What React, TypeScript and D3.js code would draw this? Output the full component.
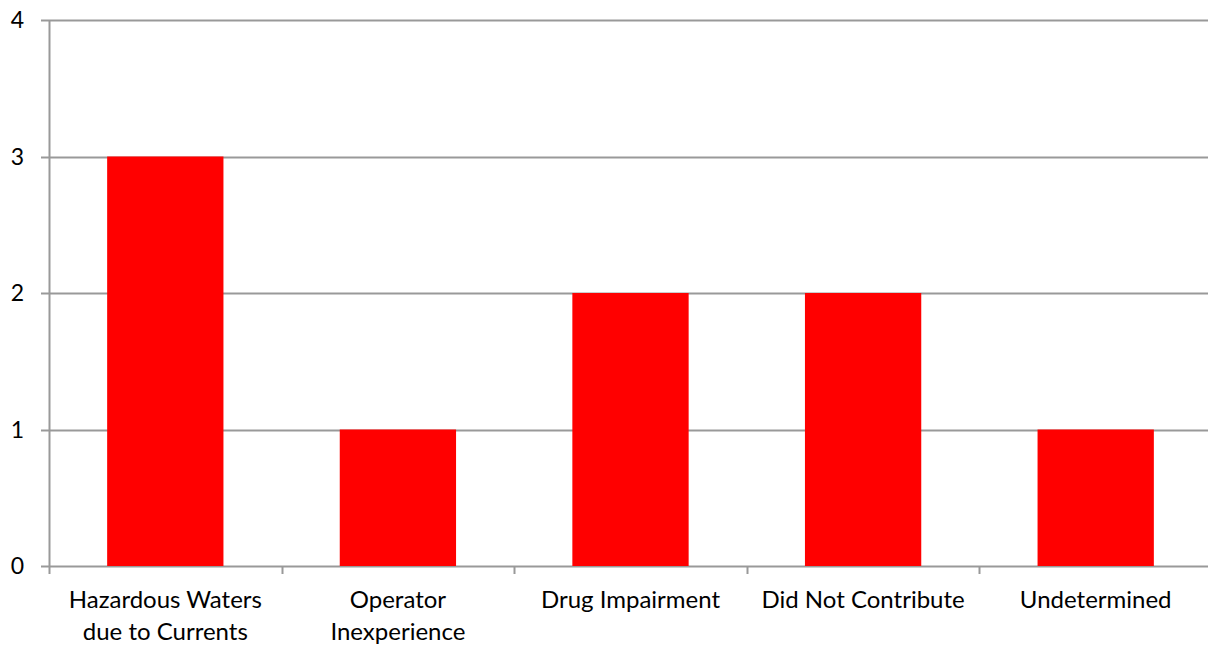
import { useRef, useEffect } from "react";
import * as d3 from "d3";

const categories: string[][] = [
  ["Hazardous Waters", "due to Currents"],
  ["Operator", "Inexperience"],
  ["Drug Impairment"],
  ["Did Not Contribute"],
  ["Undetermined"],
];
const values: number[] = [3, 1, 2, 2, 1];
const yTicks: number[] = [0, 1, 2, 3, 4];

const W = 1208;
const H = 648;
const margin = { top: 20, right: -4, bottom: 82, left: 49 };

const App = () => {
  const svgRef = useRef(null);

  useEffect(() => {
    if (!svgRef.current) return;
    const svg = d3.select(svgRef.current);
    svg.selectAll("*").remove();

    const keys = categories.map((c) => c.join(" "));
    const x = d3
      .scaleBand()
      .domain(keys)
      .range([margin.left, W - margin.right])
      .paddingInner(0.5)
      .paddingOuter(0.25);
    const y = d3
      .scaleLinear()
      .domain([0, 4])
      .range([H - margin.bottom, margin.top]);

    const font = "Lato, Carlito, sans-serif";
    const grid = "#999999";

    // gridlines
    svg
      .append("g")
      .selectAll("line")
      .data(yTicks)
      .join("line")
      .attr("x1", margin.left - 8)
      .attr("x2", W)
      .attr("y1", (d) => Math.round(y(d)) + 0.5)
      .attr("y2", (d) => Math.round(y(d)) + 0.5)
      .attr("stroke", grid)
      .attr("stroke-width", 2);

    // y labels
    svg
      .append("g")
      .attr("font-family", font)
      .attr("font-size", 23)
      .attr("fill", "#000")
      .attr("text-anchor", "end")
      .selectAll("text")
      .data(yTicks)
      .join("text")
      .attr("x", 24)
      .attr("y", (d) => y(d))
      .attr("dy", "0.36em")
      .text((d) => d);

    // bars
    svg
      .append("g")
      .selectAll("rect")
      .data(values)
      .join("rect")
      .attr("x", (_, i) => x(keys[i]) as number)
      .attr("width", x.bandwidth())
      .attr("y", (d) => y(d))
      .attr("height", (d) => y(0) - y(d))
      .attr("fill", "#ff0000");

    // y axis line
    svg
      .append("line")
      .attr("x1", margin.left + 0.5)
      .attr("x2", margin.left + 0.5)
      .attr("y1", margin.top)
      .attr("y2", y(0) + 8)
      .attr("stroke", grid)
      .attr("stroke-width", 2);

    // x ticks between categories
    const step = x.step();
    const xTicks = d3.range(1, keys.length).map((i) => margin.left + i * step);
    svg
      .append("g")
      .selectAll("line")
      .data(xTicks)
      .join("line")
      .attr("x1", (d) => Math.round(d) + 0.5)
      .attr("x2", (d) => Math.round(d) + 0.5)
      .attr("y1", y(0))
      .attr("y2", y(0) + 8)
      .attr("stroke", grid)
      .attr("stroke-width", 2);

    // x labels
    svg
      .append("g")
      .attr("font-family", font)
      .attr("font-size", 24)
      .attr("fill", "#000")
      .attr("text-anchor", "middle")
      .selectAll("text")
      .data(categories)
      .join((enter) => {
        const t = enter.append("text");
        t.attr("transform", (_, i) => `translate(${(x(keys[i]) as number) + x.bandwidth() / 2},${y(0) + 42})`);
        t.selectAll("tspan")
          .data((d) => d)
          .join("tspan")
          .attr("x", 0)
          .attr("y", (_, j) => j * 32)
          .text((d) => d);
        return t;
      });
  }, []);

  return (
    <svg
      ref={svgRef}
      width={W}
      height={H}
      style={{ position: "absolute", left: 0, top: 0, background: "#fff" }}
    />
  );
};

export default App;
